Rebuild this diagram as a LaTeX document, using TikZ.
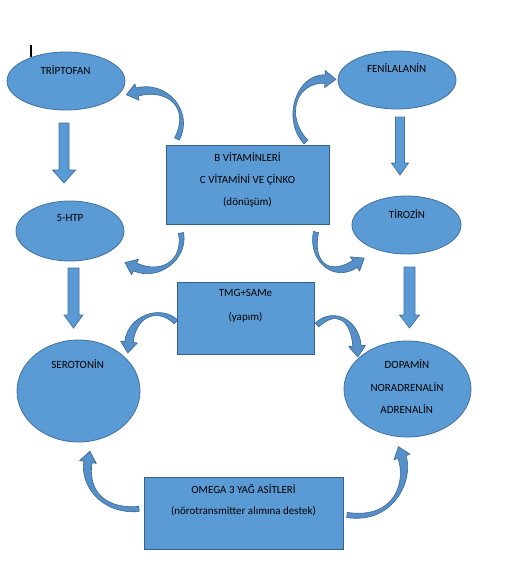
\documentclass[tikz,border=0pt]{standalone}
\usepackage{fontspec}
\setmainfont{Carlito}
\usetikzlibrary{shapes.geometric,calc}
\definecolor{fillblue}{HTML}{5B9BD5}
\definecolor{edgeblue}{HTML}{41719C}
\definecolor{arrblue}{HTML}{5590CB}
\tikzset{
  ell/.style={ellipse,draw=edgeblue,fill=fillblue,line width=0.8pt,inner sep=0pt},
  box/.style={rectangle,draw=edgeblue!85!black,fill=fillblue,line width=0.9pt,inner sep=0pt},
  txt/.style={font=\fontsize{11}{13}\selectfont,inner sep=0pt,text=black},
  blk/.style={draw=edgeblue,fill=fillblue,line width=0.7pt},
  carrow/.style={draw=edgeblue!90!black,fill=arrblue,line width=0.6pt,line join=round}
}
\newcommand\tw{2.6pt}
\newcommand\hw{4.2pt}
\newcommand\crvarrow[5]{%
  \coordinate (#1p0) at #2; \coordinate (#1p1) at #3;
  \coordinate (#1p2) at #4; \coordinate (#1p3) at #5;
  \coordinate (#1a1) at ($(#1p0)!\tw!90:(#1p1)$);
  \coordinate (#1a2) at ($(#1p0)!\tw!-90:(#1p1)$);
  \coordinate (#1c1) at ($(#1p1)+(#1a1)-(#1p0)$);
  \coordinate (#1d1) at ($(#1p1)+(#1a2)-(#1p0)$);
  \coordinate (#1b1) at ($(#1p3)!\hw!-90:(#1p2)$);
  \coordinate (#1b2) at ($(#1p3)!\hw!90:(#1p2)$);
  \coordinate (#1c2) at ($(#1p2)+(#1b1)-(#1p3)$);
  \coordinate (#1d2) at ($(#1p2)+(#1b2)-(#1p3)$);
  \coordinate (#1h1) at ($(#1p3)!8.5pt!-90:(#1p2)$);
  \coordinate (#1h2) at ($(#1p3)!8.5pt!90:(#1p2)$);
  \coordinate (#1t) at ($(#1p3)!11pt!180:(#1p2)$);
  \draw[carrow] (#1a1) .. controls (#1c1) and (#1c2) .. (#1b1) -- (#1h1) -- (#1t) -- (#1h2) -- (#1b2) .. controls (#1d2) and (#1d1) .. (#1a2) -- cycle;
}
% block down arrow: #1 x-center, #2 top, #3 head start, #4 tip, #5 shaft half, #6 head half
\newcommand\dnarrow[6]{%
  \draw[blk] (#1-#5,#2) -- (#1+#5,#2) -- (#1+#5,#3) -- (#1+#6,#3) -- (#1,#4) -- (#1-#6,#3) -- (#1-#5,#3) -- cycle;
}
\begin{document}
\begin{tikzpicture}[x=1pt,y=-1pt]
\useasboundingbox (0,0) rectangle (529,584);
% cursor mark
\draw[black,line width=1.2pt] (31,45) -- (31,57);
% ellipses
\node[ell,minimum width=118pt,minimum height=58pt] (trp) at (66,81) {};
\node[ell,minimum width=118pt,minimum height=58pt] (fen) at (397,80) {};
\node[ell,minimum width=108pt,minimum height=60pt] (htp) at (70,231) {};
\node[ell,minimum width=109pt,minimum height=58pt] (tir) at (406.5,225) {};
\node[ell,minimum width=123pt,minimum height=102pt] (ser) at (78.5,391) {};
\node[ell,minimum width=127pt,minimum height=96pt] (dop) at (407.5,389) {};
% boxes
\node[box,minimum width=163pt,minimum height=79pt] (bvit) at (247.5,184.5) {};
\node[box,minimum width=137pt,minimum height=72pt] (tmg) at (245.5,318) {};
\node[box,minimum width=199pt,minimum height=72pt] (omg) at (243.5,513) {};
% texts
\node[txt] (ttrp) at (65.5,70) {TRİPTOFAN};
\node[txt] (tfen) at (396.7,68) {FENİLALANİN};
\node[txt] (thtp) at (70,218) {5-HTP};
\node[txt] (ttir) at (407,214) {TİROZİN};
\node[txt] (tser) at (77.7,364) {SEROTONİN};
\node[txt] (tdop1) at (407,364) {DOPAMİN};
\node[txt] (tdop2) at (407,387) {NORADRENALİN};
\node[txt] (tdop3) at (406.7,409) {ADRENALİN};
\node[txt] (tb1) at (247.5,157) {B VİTAMİNLERİ};
\node[txt] (tb2) at (247.5,180) {C VİTAMİNİ VE ÇİNKO};
\node[txt] (tb3) at (247.5,202) {(dönüşüm)};
\node[txt] (tt1) at (245.5,293) {TMG+SAMe};
\node[txt] (tt2) at (245.5,317) {(yapım)};
\node[txt] (to1) at (243.5,489) {OMEGA 3 YAĞ ASİTLERİ};
\node[txt] (to2) at (243.5,511) {(nörotransmitter alımına destek)};
% straight block arrows
\dnarrow{64}{123}{170}{183}{5}{11.5}
\dnarrow{400}{117}{163}{175}{4.5}{8.5}
\dnarrow{73.5}{268}{315}{328}{5.5}{9.5}
\dnarrow{409.5}{267}{315}{328}{5.5}{10}
% curved arrows
\crvarrow{a1}{(177,139)}{(192,110)}{(168,84)}{(137,92)}
\crvarrow{a2}{(306,142)}{(283,118)}{(296,78)}{(325,79)}
\crvarrow{a3}{(181,233)}{(186,260)}{(160,278)}{(135,267)}
\crvarrow{a4}{(316,232)}{(310,260)}{(330,280)}{(355,264)}
\crvarrow{a5}{(176,322)}{(160,306)}{(132,315)}{(129,342)}
\crvarrow{a6}{(317,325)}{(335,308)}{(355,320)}{(357,346)}
\crvarrow{a7}{(139,509)}{(100,512)}{(84,485)}{(88,462)}
\crvarrow{a8}{(347,515)}{(395,522)}{(410,480)}{(402,457)}
\end{tikzpicture}
\end{document}
